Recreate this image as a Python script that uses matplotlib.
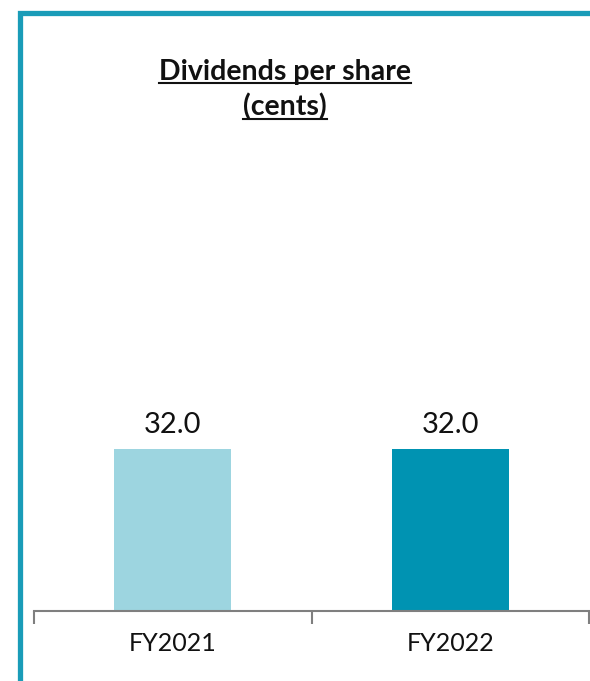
import matplotlib
matplotlib.use("Agg")
import matplotlib.pyplot as plt
from matplotlib.lines import Line2D

categories = ["FY2021", "FY2022"]
values = [32.0, 32.0]
value_labels = ["32.0", "32.0"]
colors = ["#9DD5E0", "#0093B2"]
title_lines = ["Dividends per share", "(cents)"]

plt.rcParams['font.family'] = ['Lato', 'DejaVu Sans']

W, H = 590, 681
fig = plt.figure(figsize=(W / 100, H / 100), dpi=100)

ax = fig.add_axes([34 / W, 1 - 611 / H, (589 - 34) / W, (611 - 150) / H])
x = list(range(len(categories)))
ax.bar(x, values, width=0.42, color=colors)
for xi, v, lab in zip(x, values, value_labels):
    ax.annotate(lab, (xi, v), xytext=(0, 8), textcoords="offset points",
                ha="center", va="bottom", fontsize=21, color="#111111")

ax.set_xlim(-0.5, len(categories) - 0.5)
ax.set_ylim(0, 91)
for s in ["top", "right", "left"]:
    ax.spines[s].set_visible(False)
ax.spines["bottom"].set_color("#7f7f7f")
ax.spines["bottom"].set_linewidth(1.5)
ax.set_yticks([])
ax.set_xticks(x)
ax.set_xticklabels(categories, fontsize=18, color="#111111")
ax.tick_params(axis="x", which="major", length=0, pad=15)
ax.set_xticks([i - 0.5 for i in range(len(categories) + 1)], minor=True)
ax.tick_params(axis="x", which="minor", length=9, width=1.5, color="#7f7f7f")

# Title with underline
t1 = fig.text(285 / W, 1 - 72 / H, title_lines[0], ha="center", va="center",
              fontsize=20.5, fontweight="bold", color="#111111")
t2 = fig.text(285 / W, 1 - 107 / H, title_lines[1], ha="center", va="center",
              fontsize=20.5, fontweight="bold", color="#111111")
fig.canvas.draw()
r = fig.canvas.get_renderer()
for t in (t1, t2):
    bb = t.get_window_extent(r)
    yline = bb.y0 + 2
    fig.add_artist(Line2D([bb.x0 / W, bb.x1 / W], [yline / H, yline / H],
                          transform=fig.transFigure, color="#111111", lw=1.5))

# Frame border (left and top)
border = "#1A9CB8"
fig.add_artist(Line2D([19.5 / W, 19.5 / W, 1.0], [0, 1 - 12.5 / H, 1 - 12.5 / H],
                      transform=fig.transFigure, color=border, lw=3.8,
                      solid_joinstyle="miter"))

fig.savefig("out.png", dpi=100)
